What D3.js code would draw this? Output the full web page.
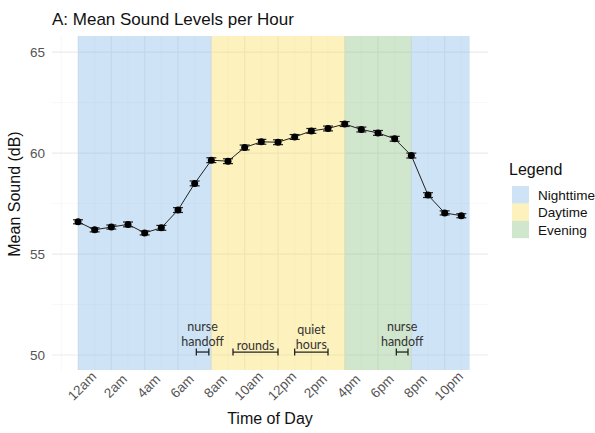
<!DOCTYPE html>
<html>
<head>
<meta charset="utf-8">
<script src="https://cdn.jsdelivr.net/npm/d3@7"></script>
<style>
    body { margin: 0; background: #fff; }
    text { font-family: "Liberation Sans", Arial, sans-serif; }
    .tick-label { fill: #555; font-size: 13.5px; }
    .note { font-family: Lato, "Open Sans", sans-serif; font-size: 12.5px; fill: #333; }
</style>
</head>
<body>
<script>
//data
var hours = d3.range(0, 24);
var meanSound = [56.6, 56.2, 56.34, 56.47, 56.05, 56.3, 57.18, 58.5, 59.65, 59.6, 60.28, 60.56,
                 60.54, 60.8, 61.1, 61.22, 61.44, 61.17, 61.0, 60.71, 59.88, 57.92, 57.04, 56.9];
var seSound = [0.1, 0.1, 0.1, 0.12, 0.1, 0.12, 0.12, 0.12, 0.12, 0.12, 0.12, 0.12,
               0.12, 0.12, 0.12, 0.12, 0.12, 0.12, 0.12, 0.12, 0.12, 0.12, 0.1, 0.1];
var xTickHours = [0, 2, 4, 6, 8, 10, 12, 14, 16, 18, 20, 22];
var xTickLabels = ["12am", "2am", "4am", "6am", "8am", "10am", "12pm", "2pm", "4pm", "6pm", "8pm", "10pm"];
var yTicks = [50, 55, 60, 65];
var periods = ["Nighttime", "Daytime", "Evening"];
var periodColors = ["#84bbe8", "#fadc5c", "#89c082"];
//shaded time bands: [start hour, end hour, period]
var bands = [[0, 8, "Nighttime"], [8, 16, "Daytime"], [16, 20, "Evening"], [20, 23.5, "Nighttime"]];
//annotation brackets
var noteLines = [["nurse", "handoff"], ["rounds"], ["quiet", "hours"], ["nurse", "handoff"]];
var noteStart = [7.1, 9.3, 13.0, 19.1];
var noteEnd = [7.85, 12.0, 15.0, 19.8];
var noteTextY = [50.45, 50.27, 50.3, 50.45]; //baseline of last line (dB)
var bracketY = 50.15;

var w = 595, h = 433;
var pLeft = 52, pRight = 488, pTop = 36, pBottom = 370;

window.onload = function(){
    var svg = d3.select("body")
        .append("svg")
        .attr("width", w)
        .attr("height", h);

    var x = d3.scaleLinear().domain([-1.56, 24.6]).range([pLeft, pRight]);
    var y = d3.scaleLinear().domain([49.26, 65.8]).range([pBottom, pTop]);
    var color = d3.scaleOrdinal().domain(periods).range(periodColors);

    //grid lines (theme_minimal look)
    var grid = svg.append("g").attr("class", "grid");
    grid.selectAll(".minorY")
        .data([52.5, 57.5, 62.5])
        .enter().append("line")
        .attr("x1", pLeft).attr("x2", pRight)
        .attr("y1", function(d){ return y(d); })
        .attr("y2", function(d){ return y(d); })
        .style("stroke", "#f3f3f3").style("stroke-width", 0.6);
    grid.selectAll(".minorX")
        .data(d3.range(-1, 24, 2))
        .enter().append("line")
        .attr("y1", pTop).attr("y2", pBottom)
        .attr("x1", function(d){ return x(d); })
        .attr("x2", function(d){ return x(d); })
        .style("stroke", "#f3f3f3").style("stroke-width", 0.6);
    grid.selectAll(".majorY")
        .data(yTicks)
        .enter().append("line")
        .attr("x1", pLeft).attr("x2", pRight)
        .attr("y1", function(d){ return y(d); })
        .attr("y2", function(d){ return y(d); })
        .style("stroke", "#ebebeb").style("stroke-width", 1.1);
    grid.selectAll(".majorX")
        .data(xTickHours)
        .enter().append("line")
        .attr("y1", pTop).attr("y2", pBottom)
        .attr("x1", function(d){ return x(d); })
        .attr("x2", function(d){ return x(d); })
        .style("stroke", "#ebebeb").style("stroke-width", 1.1);

    //time of day bands
    svg.selectAll(".band")
        .data(bands)
        .enter().append("rect")
        .attr("class", "band")
        .attr("x", function(d){ return x(d[0]); })
        .attr("width", function(d){ return x(d[1]) - x(d[0]); })
        .attr("y", pTop)
        .attr("height", pBottom - pTop)
        .style("fill", function(d){ return color(d[2]); })
        .style("opacity", 0.4);

    //connecting line
    var line = d3.line()
        .x(function(d, i){ return x(hours[i]); })
        .y(function(d){ return y(d); });
    svg.append("path")
        .datum(meanSound)
        .attr("d", line)
        .style("fill", "none")
        .style("stroke", "#222")
        .style("stroke-width", 1);

    //error bars
    var capW = 0.3;
    var bars = svg.selectAll(".err")
        .data(meanSound)
        .enter().append("g")
        .attr("class", "err")
        .style("stroke", "#222")
        .style("stroke-width", 1.2);
    bars.append("line")
        .attr("x1", function(d, i){ return x(hours[i]); })
        .attr("x2", function(d, i){ return x(hours[i]); })
        .attr("y1", function(d, i){ return y(d - seSound[i]); })
        .attr("y2", function(d, i){ return y(d + seSound[i]); });
    [-1, 1].forEach(function(s){
        bars.append("line")
            .attr("x1", function(d, i){ return x(hours[i] - capW); })
            .attr("x2", function(d, i){ return x(hours[i] + capW); })
            .attr("y1", function(d, i){ return y(d + s * seSound[i]); })
            .attr("y2", function(d, i){ return y(d + s * seSound[i]); });
    });

    //points
    svg.selectAll(".pt")
        .data(meanSound)
        .enter().append("circle")
        .attr("class", "pt")
        .attr("cx", function(d, i){ return x(hours[i]); })
        .attr("cy", function(d){ return y(d); })
        .attr("r", 3.5)
        .style("fill", "#000");

    //annotation brackets and labels
    var notes = svg.selectAll(".noteG")
        .data(noteLines)
        .enter().append("g")
        .attr("class", "noteG")
        .style("stroke", "#222")
        .style("stroke-width", 1.3);
    notes.append("line")
        .attr("x1", function(d, i){ return x(noteStart[i]); })
        .attr("x2", function(d, i){ return x(noteEnd[i]); })
        .attr("y1", y(bracketY)).attr("y2", y(bracketY));
    notes.append("line")
        .attr("x1", function(d, i){ return x(noteStart[i]); })
        .attr("x2", function(d, i){ return x(noteStart[i]); })
        .attr("y1", y(bracketY) - 3.5).attr("y2", y(bracketY) + 3.5);
    notes.append("line")
        .attr("x1", function(d, i){ return x(noteEnd[i]); })
        .attr("x2", function(d, i){ return x(noteEnd[i]); })
        .attr("y1", y(bracketY) - 3.5).attr("y2", y(bracketY) + 3.5);
    notes.each(function(d, i){
        var g = d3.select(this);
        var cx = x((noteStart[i] + noteEnd[i]) / 2);
        var base = y(noteTextY[i]);
        d.forEach(function(txt, j){
            g.append("text")
                .attr("class", "note")
                .attr("x", cx)
                .attr("y", base - (d.length - 1 - j) * 14.5)
                .attr("text-anchor", "middle")
                .style("stroke", "none")
                .text(txt);
        });
    });

    //y tick labels
    svg.selectAll(".ylab")
        .data(yTicks)
        .enter().append("text")
        .attr("class", "tick-label")
        .attr("x", 45)
        .attr("y", function(d){ return y(d); })
        .attr("dy", "0.35em")
        .attr("text-anchor", "end")
        .text(function(d){ return d; });

    //x tick labels, rotated
    svg.selectAll(".xlab")
        .data(xTickHours)
        .enter().append("text")
        .attr("class", "tick-label")
        .attr("text-anchor", "middle")
        .attr("dy", "0.35em")
        .attr("transform", function(d){ return "translate(" + (x(d) + 4) + ",386) rotate(-45)"; })
        .text(function(d, i){ return xTickLabels[i]; });

    //axis titles
    svg.append("text")
        .attr("x", (pLeft + pRight) / 2)
        .attr("y", 424)
        .attr("text-anchor", "middle")
        .style("font-size", "16px")
        .style("fill", "#111")
        .text("Time of Day");
    svg.append("text")
        .attr("transform", "translate(20,194) rotate(-90)")
        .attr("text-anchor", "middle")
        .style("font-size", "16px")
        .style("fill", "#111")
        .text("Mean Sound (dB)");

    //title
    svg.append("text")
        .attr("x", 52)
        .attr("y", 25)
        .style("font-size", "17px")
        .style("fill", "#111")
        .text("A: Mean Sound Levels per Hour");

    //legend
    var legend = svg.append("g").attr("class", "legend");
    legend.append("text")
        .attr("x", 509)
        .attr("y", 175)
        .style("font-size", "16px")
        .style("fill", "#111")
        .text("Legend");
    var keys = legend.selectAll(".key")
        .data(periods)
        .enter().append("g")
        .attr("class", "key")
        .attr("transform", function(d, i){ return "translate(512," + (186 + i * 17.4) + ")"; });
    keys.append("rect")
        .attr("width", 17)
        .attr("height", 17.4)
        .style("fill", function(d){ return color(d); })
        .style("opacity", 0.4);
    keys.append("text")
        .attr("x", 26)
        .attr("y", 14)
        .style("font-size", "13.5px")
        .style("fill", "#111")
        .text(function(d){ return d; });
};
</script>
</body>
</html>
